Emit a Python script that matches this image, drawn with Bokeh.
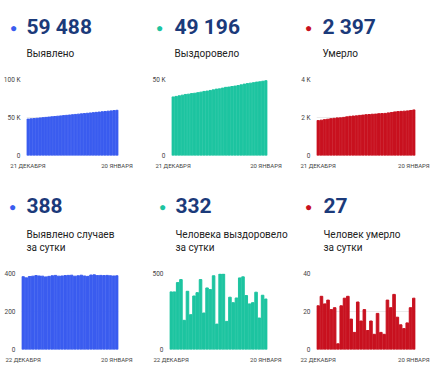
from bokeh.plotting import figure
from bokeh.models import FixedTicker, Range1d
from bokeh.core.properties import value
from bokeh.layouts import row, column
from bokeh.embed import file_html
from bokeh.resources import INLINE

# ---- data ----
cum_start_label = "21 ДЕКАБРЯ"
daily_start_label = "22 ДЕКАБРЯ"
end_label = "20 ЯНВАРЯ"

cum_cases = [47865, 48248, 48625, 49009, 49395, 49784, 50171, 50557, 50939, 51324,
             51712, 52102, 52488, 52875, 53264, 53654, 54045, 54431, 54819, 55210,
             55597, 55982, 56374, 56767, 57156, 57546, 57935, 58325, 58713, 59100, 59488]
cum_recovered = [38504, 38883, 39262, 39702, 40162, 40354, 40737, 40966, 41318, 41692,
                 42152, 42392, 42797, 43191, 43676, 43843, 44339, 44835, 45020, 45364,
                 45672, 46011, 46482, 46960, 47315, 47615, 47923, 48300, 48507, 48864, 49196]
cum_deaths = [1836, 1859, 1887, 1911, 1937, 1958, 1980, 1983, 2006, 2033,
              2061, 2077, 2086, 2111, 2126, 2147, 2157, 2172, 2180, 2199,
              2208, 2216, 2242, 2264, 2293, 2310, 2323, 2334, 2348, 2370, 2397]

daily_cases = [383, 377, 384, 386, 389, 387, 386, 382, 385, 388,
               390, 386, 387, 389, 390, 391, 386, 388, 391, 387,
               385, 392, 393, 389, 390, 389, 390, 388, 387, 388]
daily_recovered = [379, 379, 440, 460, 192, 383, 229, 352, 374, 460,
                   240, 405, 394, 485, 167, 496, 496, 185, 344, 308,
                   339, 471, 478, 355, 300, 308, 377, 207, 357, 332]
daily_deaths = [23, 28, 24, 26, 21, 22, 3, 23, 27, 28,
                16, 9, 25, 15, 21, 10, 15, 8, 19, 9,
                8, 26, 22, 29, 17, 13, 11, 14, 22, 27]

headlines = ["59 488", "49 196", "2 397", "388", "332", "27"]
subtitles = [["Выявлено"], ["Выздоровело"], ["Умерло"],
             ["Выявлено случаев", "за сутки"],
             ["Человека выздоровело", "за сутки"],
             ["Человек умерло", "за сутки"]]
y_ticks = [[0, 50000, 100000], [0, 50000], [0, 2000, 4000],
           [0, 200, 400], [0, 500], [0, 20, 40]]
y_tick_labels = [["0", "50 K", "100 K"], ["0", "50 K"], ["0", "2 K", "4 K"],
                 ["0", "200", "400"], ["0", "500"], ["0", "20", "40"]]

BLUE = "#3a5cef"
TEAL = "#1dc4a0"
RED = "#c8111f"
NAVY = "#1b3a7a"
FONT = "Roboto"


def header(color, headline, subs, width, height, dot_x, text_x, num_y, sub_ys):
    h = figure(width=width, height=height, output_backend="svg", toolbar_location=None,
               x_range=Range1d(0, width), y_range=Range1d(height, 0),
               x_axis_location=None, y_axis_location=None,
               min_border_left=0, min_border_right=0, min_border_top=0,
               min_border_bottom=0)
    h.outline_line_color = None
    h.grid.visible = False
    h.text(x=[dot_x], y=[num_y + 1], text=["●"], text_color=color,
           text_font_size="12px", text_align="center", text_baseline="middle")
    h.text(x=[text_x], y=[num_y], text=[headline], text_color=NAVY,
           text_font=value(FONT), text_font_style="bold", text_font_size="21px",
           text_baseline="middle")
    h.text(x=[text_x] * len(subs), y=sub_ys, text=subs, text_color="#222222",
           text_font=value(FONT), text_font_size="10px", text_baseline="middle")
    return h


def chart(values, color, ticks, tick_labels, start_label, width, height, bl, br, bb):
    n = len(values)
    p = figure(width=width, height=height, output_backend="svg", toolbar_location=None,
               x_range=Range1d(-0.5, n - 0.5), y_range=Range1d(0, ticks[-1]),
               min_border_left=bl, min_border_right=br, min_border_top=6,
               min_border_bottom=bb)
    p.outline_line_color = None
    p.vbar(x=list(range(n)), top=values, width=0.78, color=color)

    p.xgrid.visible = False
    p.ygrid.ticker = FixedTicker(ticks=ticks)
    p.ygrid.grid_line_color = "#ebebeb"

    p.yaxis.ticker = FixedTicker(ticks=ticks)
    p.yaxis.major_label_overrides = {t: l for t, l in zip(ticks, tick_labels)}
    p.xaxis.ticker = FixedTicker(ticks=[0, n - 1])
    p.xaxis.major_label_overrides = {0: start_label, n - 1: end_label}
    for ax in (p.xaxis, p.yaxis):
        ax.axis_line_color = None
        ax.major_tick_line_color = None
        ax.minor_tick_line_color = None
        ax.major_tick_out = 0
        ax.major_tick_in = 0
        ax.minor_tick_out = 0
        ax.major_label_text_font = FONT
        ax.major_label_text_color = "#444444"
    p.yaxis.major_label_text_font_size = "6.5px"
    p.xaxis.major_label_text_font_size = "6px"
    p.yaxis.major_label_standoff = 6
    p.xaxis.major_label_standoff = 6
    return p


W = 146
TOP_HEAD = 73
TOP_CHART = 112
BOT_HEAD = 82
BOT_CHART = 107

h1 = header(BLUE, headlines[0], subtitles[0], W, TOP_HEAD, 13, 26, 26, [53])
h2 = header(TEAL, headlines[1], subtitles[1], W, TOP_HEAD, 13, 28, 26, [53])
h3 = header(RED, headlines[2], subtitles[2], W, TOP_HEAD, 16, 30, 26, [53])
g1 = chart(cum_cases, BLUE, y_ticks[0], y_tick_labels[0], cum_start_label,
           W, TOP_CHART, 26, 28, 30)
g2 = chart(cum_recovered, TEAL, y_ticks[1], y_tick_labels[1], cum_start_label,
           W, TOP_CHART, 25, 25, 30)
g3 = chart(cum_deaths, RED, y_ticks[2], y_tick_labels[2], cum_start_label,
           W, TOP_CHART, 24, 23, 30)
h4 = header(BLUE, headlines[3], subtitles[3], W, BOT_HEAD, 12, 26, 20, [48.5, 62])
h5 = header(TEAL, headlines[4], subtitles[4], W, BOT_HEAD, 16, 29, 20, [48.5, 62])
h6 = header(RED, headlines[5], subtitles[5], W, BOT_HEAD, 16, 31, 20, [48.5, 62])
g4 = chart(daily_cases, BLUE, y_ticks[3], y_tick_labels[3], daily_start_label,
           W, BOT_CHART, 21, 28, 25)
g5 = chart(daily_recovered, TEAL, y_ticks[4], y_tick_labels[4], daily_start_label,
           W, BOT_CHART, 23, 25, 25)
g6 = chart(daily_deaths, RED, y_ticks[5], y_tick_labels[5], daily_start_label,
           W, BOT_CHART, 24, 23, 25)

layout = column(row(h1, h2, h3), row(g1, g2, g3), row(h4, h5, h6), row(g4, g5, g6))
open("out.html", "w").write(file_html(layout, INLINE))
